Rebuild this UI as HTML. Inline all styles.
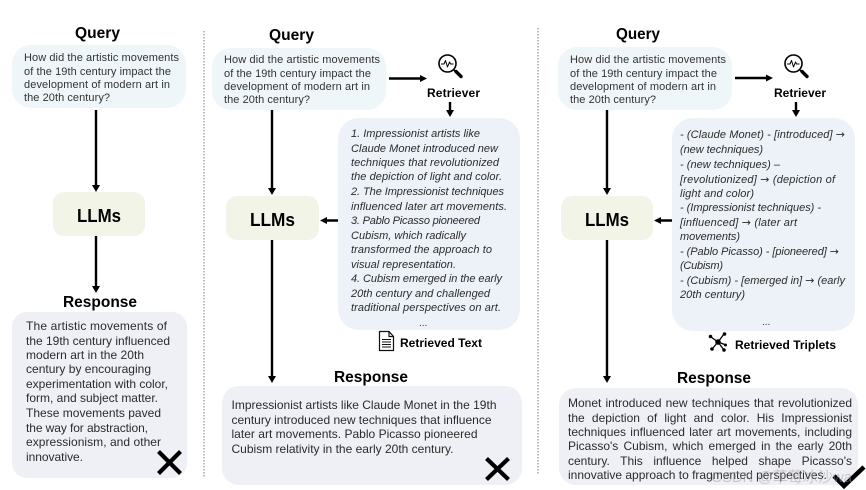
<!DOCTYPE html>
<html><head><meta charset="utf-8"><style>
html,body{margin:0;padding:0;background:#fff}
#w{position:relative;width:866px;height:490px;overflow:hidden;background:#fff}
svg{position:absolute;left:0;top:0}
text{font-family:"Liberation Sans",sans-serif}
.t{font-size:16px;font-weight:bold;fill:#000}
.l{font-size:18px;font-weight:bold;fill:#000}
.q{font-size:11px;fill:#333}
.r{font-size:12px;fill:#2b2b2b}
.i{font-size:11px;font-style:italic;fill:#2b2b2b}
.b{font-size:12px;font-weight:bold;fill:#000}
.a{font-family:"DejaVu Sans",sans-serif;font-style:normal;font-size:11px}
.j{position:absolute;left:568px;width:284px;height:14px;font:12px/14px "Liberation Sans",sans-serif;color:#2b2b2b;text-align:justify;text-align-last:justify;white-space:normal}
.n{position:absolute;left:568px;height:14px;font:12px/14px "Liberation Sans",sans-serif;color:#2b2b2b;white-space:nowrap}
</style></head><body><div id="w">
<svg width="866" height="490" viewBox="0 0 866 490">
<g stroke="#a6a6a6" stroke-width="1.5" stroke-dasharray="1.5 1.5"><line x1="204" y1="31" x2="204" y2="478"/><line x1="538" y1="28" x2="538" y2="475"/></g>
<g>
<rect x="12" y="45" width="174" height="63" rx="19" fill="#eff6f9"/>
<rect x="212" y="48" width="174" height="62" rx="19" fill="#eff6f9"/>
<rect x="558" y="47" width="174" height="63" rx="19" fill="#eff6f9"/>
<rect x="53" y="192" width="92" height="44" rx="11" fill="#f3f4e8"/>
<rect x="226" y="196" width="93" height="44" rx="11" fill="#f3f4e8"/>
<rect x="561" y="196" width="92" height="44" rx="11" fill="#f3f4e8"/>
<rect x="12" y="312" width="175" height="166" rx="15" fill="#efeff6"/>
<rect x="222" y="386" width="300" height="99" rx="17" fill="#efeff6"/>
<rect x="559" y="388" width="299" height="97" rx="17" fill="#efeff6"/>
<rect x="338" y="118" width="182" height="212" rx="21" fill="#edf2f9"/>
<rect x="672" y="118" width="183" height="213" rx="21" fill="#edf2f9"/>
</g>
<g stroke="#000" stroke-width="2.400" fill="none">
<path d="M96 110V186M96 236V287M272 110V189M272 240V377M607 110V189M607 240V377"/>
<path d="M389 78.500H421M735 78H767M450 102V111M796 102V111M326 220.500H338M660 220.500H672"/>
</g>
<g fill="#000">
<path d="M92 185h8l-4 7zM92 286h8l-4 7zM268 188h8l-4 7zM268 376h8l-4 7zM603 188h8l-4 7zM603 376h8l-4 7z"/>
<path d="M420 75l7 3.500-7 3.500zM766 74.500l7 3.500-7 3.500zM446 110h8l-4 7zM792 110h8l-4 7zM327 217l-7 3.500 7 3.500zM661 217l-7 3.500 7 3.500z"/>
</g>
<text class="t" x="75" y="38" textLength="45" lengthAdjust="spacingAndGlyphs">Query</text>
<text class="t" x="269" y="40" textLength="45" lengthAdjust="spacingAndGlyphs">Query</text>
<text class="t" x="616" y="39" textLength="44" lengthAdjust="spacingAndGlyphs">Query</text>
<text class="t" x="63" y="307" textLength="74" lengthAdjust="spacingAndGlyphs">Response</text>
<text class="t" x="334" y="382" textLength="74" lengthAdjust="spacingAndGlyphs">Response</text>
<text class="t" x="677" y="383" textLength="74" lengthAdjust="spacingAndGlyphs">Response</text>
<text class="l" x="77" y="222" textLength="44" lengthAdjust="spacingAndGlyphs">LLMs</text>
<text class="l" x="250" y="226" textLength="45" lengthAdjust="spacingAndGlyphs">LLMs</text>
<text class="l" x="585" y="226" textLength="44" lengthAdjust="spacingAndGlyphs">LLMs</text>
<g class="q">
<text class="q" x="24" y="61" textLength="155">How did the artistic movements</text>
<text class="q" x="24" y="75" textLength="147">of the 19th century impact the</text>
<text class="q" x="24" y="88" textLength="146">development of modern art in</text>
<text class="q" x="24" y="101" textLength="86">the 20th century?</text>
<text class="q" x="224" y="63" textLength="156">How did the artistic movements</text>
<text class="q" x="224" y="77" textLength="147">of the 19th century impact the</text>
<text class="q" x="224" y="90" textLength="146">development of modern art in</text>
<text class="q" x="224" y="103" textLength="86">the 20th century?</text>
<text class="q" x="570" y="63" textLength="156">How did the artistic movements</text>
<text class="q" x="570" y="77" textLength="147">of the 19th century impact the</text>
<text class="q" x="570" y="90" textLength="146">development of modern art in</text>
<text class="q" x="570" y="103" textLength="86">the 20th century?</text>
</g>
<text class="r" x="26" y="330" textLength="141">The artistic movements of</text>
<text class="r" x="26" y="345" textLength="144">the 19th century influenced</text>
<text class="r" x="26" y="359" textLength="118">modern art in the 20th</text>
<text class="r" x="26" y="373" textLength="125">century by encouraging</text>
<text class="r" x="26" y="388" textLength="142">experimentation with color,</text>
<text class="r" x="26" y="402" textLength="132">form, and subject matter.</text>
<text class="r" x="26" y="417" textLength="135">These movements paved</text>
<text class="r" x="26" y="432" textLength="122">the way for abstraction,</text>
<text class="r" x="26" y="446" textLength="135">expressionism, and other</text>
<text class="r" x="26" y="461" textLength="57">innovative.</text>
<text class="r" x="231.500" y="409" textLength="265">Impressionist artists like Claude Monet in the 19th</text>
<text class="r" x="231.500" y="424" textLength="260">century introduced new techniques that influence</text>
<text class="r" x="231.500" y="438" textLength="246">later art movements. Pablo Picasso pioneered</text>
<text class="r" x="231.500" y="453" textLength="222">Cubism relativity in the early 20th century.</text>
<text class="i" x="351" y="137" textLength="129">1. Impressionist artists like</text>
<text class="i" x="351" y="152" textLength="147">Claude Monet introduced new</text>
<text class="i" x="351" y="166" textLength="148">techniques that revolutionized</text>
<text class="i" x="351" y="180" textLength="151">the depiction of light and color.</text>
<text class="i" x="351" y="195" textLength="153">2. The Impressionist techniques</text>
<text class="i" x="351" y="210" textLength="156">influenced later art movements.</text>
<text class="i" x="351" y="224" textLength="129">3. Pablo Picasso pioneered</text>
<text class="i" x="351" y="239" textLength="115">Cubism, which radically</text>
<text class="i" x="351" y="253" textLength="141">transformed the approach to</text>
<text class="i" x="351" y="268" textLength="105">visual representation.</text>
<text class="i" x="351" y="282" textLength="151">4. Cubism emerged in the early</text>
<text class="i" x="351" y="297" textLength="139">20th century and challenged</text>
<text class="i" x="351" y="311" textLength="150">traditional perspectives on art.</text>
<text class="q" x="419" y="326" style="font-size:10px">...</text>
<text class="i" x="680" y="138" textLength="165">- (Claude Monet) - [introduced] <tspan class="a">→</tspan></text>
<text class="i" x="680" y="153" textLength="83">(new techniques)</text>
<text class="i" x="680" y="168" textLength="100">- (new techniques) –</text>
<text class="i" x="680" y="183" textLength="155">[revolutionized] <tspan class="a">→</tspan> (depiction of</text>
<text class="i" x="680" y="197" textLength="74">light and color)</text>
<text class="i" x="680" y="211" textLength="141">- (Impressionist techniques) -</text>
<text class="i" x="680" y="226" textLength="117">[influenced] <tspan class="a">→</tspan> (later art</text>
<text class="i" x="680" y="240" textLength="60">movements)</text>
<text class="i" x="680" y="255" textLength="159">- (Pablo Picasso) - [pioneered] <tspan class="a">→</tspan></text>
<text class="i" x="680" y="269" textLength="43">(Cubism)</text>
<text class="i" x="680" y="284" textLength="165">- (Cubism) - [emerged in] <tspan class="a">→</tspan> (early</text>
<text class="i" x="680" y="298" textLength="65">20th century)</text>
<text class="q" x="762" y="325" style="font-size:10px">...</text>
<text class="b" x="427" y="97" textLength="53">Retriever</text>
<text class="b" x="774" y="97" textLength="52">Retriever</text>
<text class="b" x="400" y="347" textLength="82">Retrieved Text</text>
<text class="b" x="735" y="349" textLength="101">Retrieved Triplets</text>
<g fill="none" stroke="#000" stroke-width="1.600" stroke-linejoin="round">
<circle cx="447.500" cy="63.500" r="8.500"/><path d="M441 64h3l1.500-3.500 2 6.500 2-5 1 2h3" stroke-width="1"/>
<path d="M454 70l2 2" /><path d="M456 71.500l5 5" stroke-width="3.400" stroke-linecap="round"/>
<circle cx="793.500" cy="63.500" r="8.500"/><path d="M787 64h3l1.500-3.500 2 6.500 2-5 1 2h3" stroke-width="1"/>
<path d="M800 70l2 2"/><path d="M802 71.500l5 5" stroke-width="3.400" stroke-linecap="round"/>
</g>
<g fill="#fff" stroke="#111" stroke-width="1.200"><path d="M379.500 331.500h9.500l4.500 5v14h-14z"/><path d="M389 331.500v5h4.500" fill="none"/><path d="M382 339.500h9M382 342h9M382 344.500h9M382 347h9" fill="none" stroke-width="1"/></g>
<g stroke="#000" stroke-width="1.300"><path d="M718 342L711 337M718 342L724 334M718 342L726 345M718 342L712 349M718 342L724 350"/></g>
<g fill="#000"><circle cx="718" cy="342" r="2.800"/><circle cx="710.500" cy="336.500" r="1.800"/><circle cx="724.500" cy="334" r="1.800"/><circle cx="725.500" cy="345" r="1.500"/><circle cx="712" cy="349" r="1.800"/><circle cx="724" cy="350" r="1.800"/></g>
<g stroke="#000" stroke-width="4.200"><path d="M158.500 451.500L180.500 473.500M180.500 451.500L158.500 473.500M486.500 458.500L508.500 479.500M508.500 458.500L486.500 479.500"/></g>
<path d="M834 476L844 486L864 467" fill="none" stroke="#000" stroke-width="4.500"/>
</svg>
<div class="j" style="top:396px">Monet introduced new techniques that revolutionized</div>
<div class="j" style="top:411px">the depiction of light and color. His Impressionist</div>
<div class="j" style="top:425px">techniques influenced later art movements, including</div>
<div class="j" style="top:439px">Picasso's Cubism, which emerged in the early 20th</div>
<div class="j" style="top:454px">century. This influence helped shape Picasso's</div>
<div class="n" style="top:468px">innovative approach to fragmented perspectives.</div>
<div style="position:absolute;left:711px;top:469px;width:152px;font:15px/18px 'Liberation Sans','Noto Sans CJK SC',sans-serif;color:rgba(150,150,150,.45);white-space:nowrap">CSDN @草莓冰沙wa</div>
</div></body></html>
